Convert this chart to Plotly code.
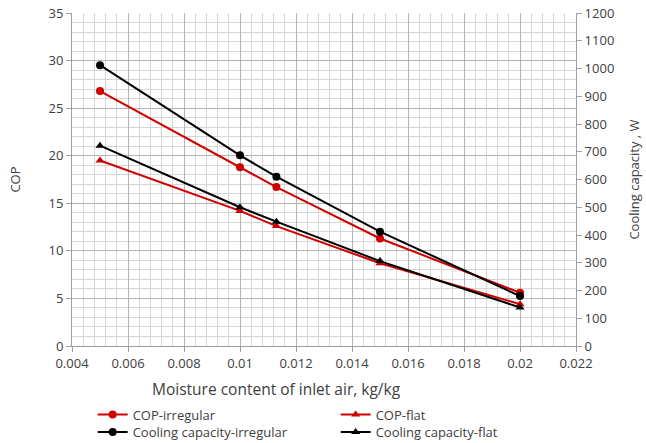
import plotly.graph_objects as go

moisture = [0.005, 0.01, 0.0113, 0.015, 0.02]
cop_irregular = [26.8, 18.8, 16.7, 11.3, 5.6]
cop_flat = [19.5, 14.2, 12.6, 8.7, 4.4]
cool_irregular = [1012, 687, 610, 412, 180]
cool_flat = [722, 500, 448, 306, 139]

x_ticks = [0.004, 0.006, 0.008, 0.01, 0.012, 0.014, 0.016, 0.018, 0.02, 0.022]
x_tick_text = ["0.004", "0.006", "0.008", "0.01", "0.012", "0.014", "0.016", "0.018", "0.02", "0.022"]

RED = "#d00000"
BLACK = "#000000"
FONT = "Open Sans"
TXT = "#404040"

fig = go.Figure()
fig.add_trace(go.Scatter(x=moisture, y=cop_irregular, name="COP-irregular", mode="lines+markers",
                         legend="legend",
                         line=dict(color=RED, width=2), marker=dict(symbol="circle", size=8, color=RED)))
fig.add_trace(go.Scatter(x=moisture, y=cop_flat, name="COP-flat", mode="lines+markers",
                         legend="legend",
                         line=dict(color=RED, width=2), marker=dict(symbol="triangle-up", size=8, color=RED)))
fig.add_trace(go.Scatter(x=moisture, y=cool_irregular, name="Cooling capacity-irregular", mode="lines+markers",
                         yaxis="y2", legend="legend2",
                         line=dict(color=BLACK, width=2), marker=dict(symbol="circle", size=8, color=BLACK)))
fig.add_trace(go.Scatter(x=moisture, y=cool_flat, name="Cooling capacity-flat", mode="lines+markers",
                         yaxis="y2", legend="legend2",
                         line=dict(color=BLACK, width=2), marker=dict(symbol="triangle-up", size=8, color=BLACK)))

legend_common = dict(orientation="h", xanchor="left", yanchor="top",
                     entrywidth=198, entrywidthmode="pixels", tracegroupgap=0,
                     font=dict(family=FONT, size=13, color=TXT), itemwidth=30,
                     bgcolor="rgba(0,0,0,0)")

fig.update_layout(
    width=646, height=443,
    margin=dict(l=72, r=70, t=13, b=97, autoexpand=False),
    paper_bgcolor="white", plot_bgcolor="white",
    font=dict(family=FONT, size=13, color=TXT),
    showlegend=True,
    legend=dict(x=0.041, y=-0.161, **legend_common),
    legend2=dict(x=0.041, y=-0.213, **legend_common),
    xaxis=dict(range=[0.004, 0.022], tickvals=x_ticks, ticktext=x_tick_text,
               showgrid=True, gridcolor="#b4b4b4", gridwidth=1,
               minor=dict(dtick=0.0004, tick0=0.004, showgrid=True, gridcolor="#d6d6d6", gridwidth=1),
               showline=True, linecolor="#a0a0a0", ticks="outside", ticklen=5, tickcolor="#a0a0a0",
               zeroline=False, tickfont=dict(size=13, color=TXT)),
    yaxis=dict(range=[0, 35], dtick=5, showgrid=True, gridcolor="#b4b4b4", gridwidth=1,
               minor=dict(dtick=1, showgrid=True, gridcolor="#d6d6d6", gridwidth=1),
               showline=True, linecolor="#a0a0a0", ticks="outside", ticklen=5, tickcolor="#a0a0a0",
               zeroline=False, tickfont=dict(size=13, color=TXT),
               title=dict(text="COP", font=dict(size=13, color=TXT), standoff=24)),
    yaxis2=dict(range=[0, 1200], dtick=100, overlaying="y", side="right", showgrid=False,
                showline=True, linecolor="#a0a0a0", ticks="outside", ticklen=5, tickcolor="#a0a0a0",
                zeroline=False, tickfont=dict(size=13, color=TXT),
                title=dict(text="Cooling capacity , W", font=dict(size=13, color=TXT), standoff=16)),
)

fig.add_annotation(text="Moisture content of inlet air, kg/kg", xref="paper", yref="paper",
                   x=0.405, y=-0.09, xanchor="center", yanchor="top", showarrow=False,
                   font=dict(family=FONT, size=15.5, color=TXT))

fig.write_html("out.html")
